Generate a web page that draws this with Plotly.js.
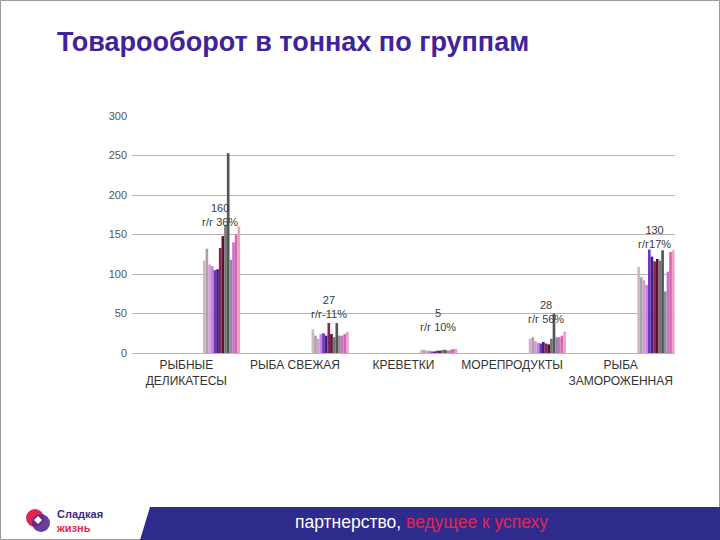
<!DOCTYPE html>
<html><head><meta charset="utf-8">
<script src="https://cdn.plot.ly/plotly-3.0.1.min.js"></script>
<style>html,body{margin:0;padding:0;background:#fff}#c{width:720px;height:540px}</style>
</head><body><div id="c"></div>
<script>
// Categories (product groups)
const categories = ["РЫБНЫЕ<br>ДЕЛИКАТЕСЫ", "РЫБА СВЕЖАЯ", "КРЕВЕТКИ", "МОРЕПРОДУКТЫ", "РЫБА<br>ЗАМОРОЖЕННАЯ"];
// Series: one per period (14 periods), values per category in tonnes
const periods = ["П1","П2","П3","П4","П5","П6","П7","П8","П9","П10","П11","П12","П13","П14"];
const deli   = [117, 132, 112, 110, 105, 106, 133, 148, 162, 253, 118, 140, 150, 160];
const fresh  = [30, 22, 18, 24, 25, 22, 38, 24, 20, 38, 22, 22, 24, 27];
const shrimp = [4, 4, 3, 3, 2, 2, 3, 3, 4, 4, 3, 4, 5, 5];
const sea    = [18, 20, 15, 13, 12, 14, 12, 11, 18, 50, 20, 20, 22, 27];
const frozen = [109, 96, 92, 86, 131, 122, 116, 119, 117, 130, 78, 103, 128, 130];
const labelValues = ["160", "27", "5", "28", "130"];
const labelGrowth = ["г/г 36%", "г/г-11%", "г/г 10%", "г/г 56%", "г/г17%"];
const yTicks = [0, 50, 100, 150, 200, 250, 300];
const colors = ["#d9b2c8","#a6a6a6","#d99ad6","#b98ae0","#7232c2","#40207f","#8b2252","#5e1030","#767676","#555555","#8e8e8e","#c274d6","#e062a2","#eba2c8"];

// plot area in pixels
const L = 132, R = 675, T = 116, B = 353;
const px = x => (x - L) / (R - L);
const py = y => (B - y) / (B - T);

const w = 0.0245;
const traces = periods.map((p, i) => ({
  type: "bar", name: p, x: categories,
  y: [deli[i], fresh[i], shrimp[i], sea[i], frozen[i]],
  marker: {color: colors[i], line: {width: 0}},
  width: w, offset: 0.153 + i * w,
  hoverinfo: "y"
}));

const labelY = [208, 300, 313, 305, 230];
const annotations = categories.map((c, k) => ({
  x: c, xref: "x", yref: "paper", y: py(labelY[k] - 8), yanchor: "top",
  text: labelValues[k] + "<br>" + labelGrowth[k],
  showarrow: false, xshift: 34,
  font: {family: "Liberation Sans, Arial", size: 11, color: "#3a3a3a"}
}));

annotations.push(
  {xref: "paper", yref: "paper", x: px(421), y: py(522), xanchor: "center", yanchor: "middle", showarrow: false,
   text: "партнерство, <span style='color:#e3264f'>ведущее к успеху</span>",
   font: {family: "Liberation Sans, Arial", size: 17.5, color: "#ffffff"}},
  {xref: "paper", yref: "paper", x: px(54), y: py(521), xanchor: "left", yanchor: "middle", showarrow: false, align: "left",
   text: "<b>Сладкая</b><br><b><span style='color:#e3264f'>жизнь</span></b>",
   font: {family: "Liberation Sans, Arial", size: 11, color: "#3b2a8a"}}
);

const shapes = [
  {type: "rect", xref: "paper", yref: "paper", x0: px(0.5), x1: px(719.5), y0: py(0.5), y1: py(539.5),
   line: {color: "#9a9a9a", width: 1}, fillcolor: "rgba(0,0,0,0)", layer: "below"},
  {type: "path", xref: "paper", yref: "paper",
   path: `M ${px(150)} ${py(507)} L ${px(720)} ${py(507)} L ${px(720)} ${py(540)} L ${px(140)} ${py(540)} Z`,
   fillcolor: "#2f2b8c", line: {width: 0}},
  {type: "circle", xref: "paper", yref: "paper", x0: px(26), x1: px(44), y0: py(509), y1: py(527),
   fillcolor: "#e3264f", line: {width: 0}},
  {type: "circle", xref: "paper", yref: "paper", x0: px(32), x1: px(50), y0: py(514), y1: py(532),
   fillcolor: "#5b2a8e", line: {width: 0}, opacity: 0.9},
  {type: "path", xref: "paper", yref: "paper",
   path: `M ${px(38)} ${py(516)} L ${px(42)} ${py(520)} L ${px(38)} ${py(524)} L ${px(34)} ${py(520)} Z`,
   fillcolor: "#ffffff", line: {width: 0}}
];

const layout = {
  width: 720, height: 540,
  margin: {l: L, r: 720 - R, t: T, b: 540 - B, pad: 0},
  paper_bgcolor: "#ffffff", plot_bgcolor: "#ffffff",
  showlegend: false, barmode: "overlay",
  title: {text: "<b>Товарооборот в тоннах по группам</b>", x: 57 / 720, xanchor: "left",
          xref: "container", yref: "container", y: 1 - 42 / 540, yanchor: "middle",
          font: {family: "Liberation Sans, Arial", size: 27, color: "#42229a"}},
  xaxis: {type: "category", showgrid: false, zeroline: false, showline: false, ticks: "",
          tickfont: {family: "Liberation Sans, Arial", size: 12, color: "#333"}, ticklabelstandoff: 3},
  yaxis: {range: [0, 300], tickvals: yTicks, showgrid: true, gridcolor: "#b5b5b5", gridwidth: 1,
          zeroline: true, zerolinecolor: "#b5b5b5", showline: false, ticks: "",
          tickfont: {family: "Liberation Sans, Arial", size: 11, color: "#555"}, ticklabelstandoff: 4},
  annotations: annotations, shapes: shapes
};
Plotly.newPlot("c", traces, layout, {displayModeBar: false, staticPlot: true});
</script></body></html>
